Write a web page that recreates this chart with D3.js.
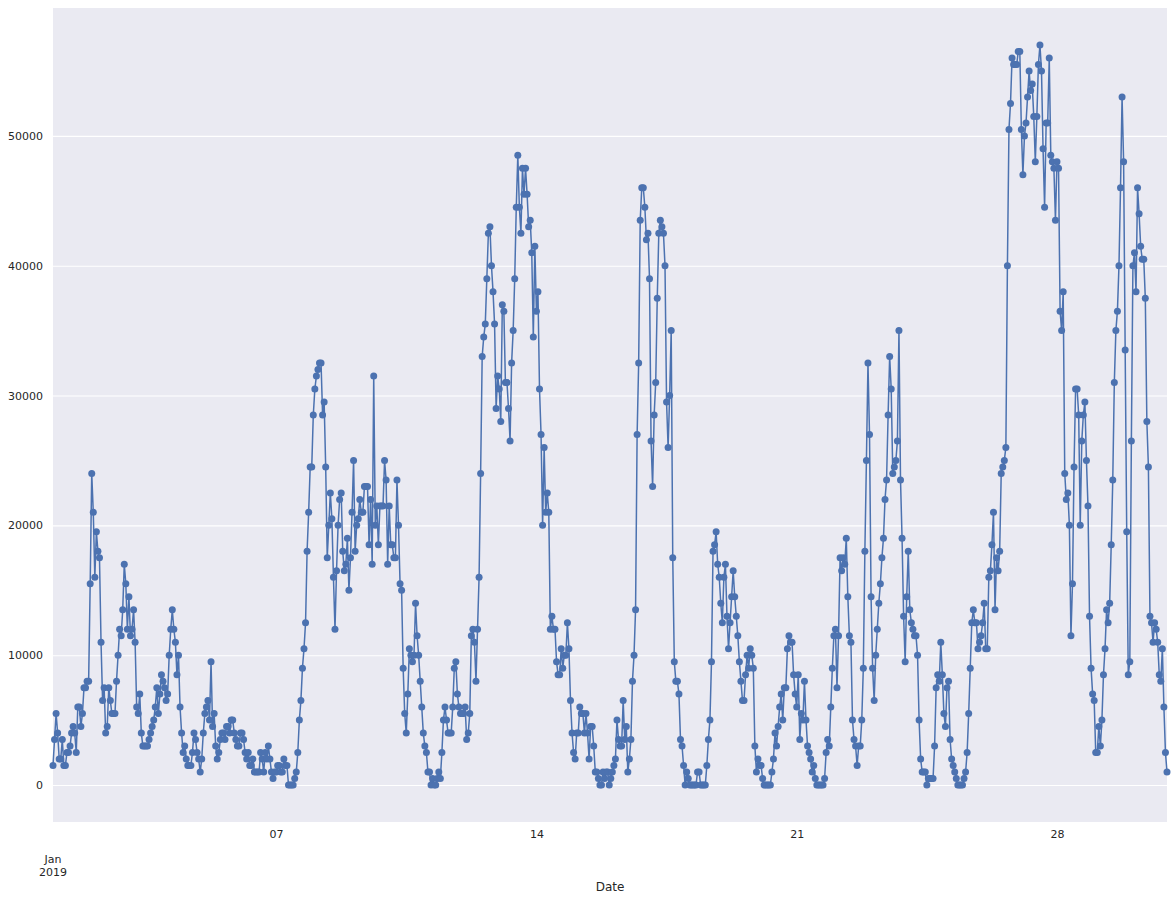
<!DOCTYPE html>
<html>
<head>
<meta charset="utf-8">
<script src="https://cdn.jsdelivr.net/npm/d3@7"></script>
<style>
  body { margin: 0; background: #fff; }
  text { font-family: "DejaVu Sans", sans-serif; fill: #262626; }
</style>
</head>
<body>
<svg id="chart" width="1174" height="901"></svg>
<script>
// hourly values, 2019-01-01 00:00 onwards, one row per day
const week1 = [
  1500, 3500, 5500, 4000, 2000, 2000, 3500, 1500, 1500, 2500, 2500, 3000, 4000, 4500, 4000, 2500, 6000, 6000, 4500, 5500, 7500, 7500, 8000, 8000,
  15500, 24000, 21000, 16000, 19500, 18000, 17500, 11000, 6500, 7500, 4000, 4500, 7500, 6500, 5500, 5500, 5500, 8000, 10000, 12000, 11500, 13500, 17000, 15500,
  12000, 14500, 11500, 12000, 13500, 11000, 6000, 5500, 7000, 4000, 3000, 3000, 3000, 3000, 3500, 4000, 4500, 5000, 6000, 7500, 5500, 7000, 8500, 8000,
  7500, 6500, 7000, 10000, 12000, 13500, 12000, 11000, 8500, 10000, 6000, 4000, 2500, 3000, 2000, 1500, 1500, 1500, 2500, 4000, 3500, 2500, 2000, 1000,
  2000, 4000, 5500, 6000, 6500, 5000, 9500, 4500, 5500, 3000, 2000, 2500, 3500, 4000, 4000, 3500, 4500, 4500, 4000, 5000, 5000, 4000, 3500, 3000,
  3000, 4000, 4000, 3500, 2500, 2000, 2500, 1500, 1500, 2000, 1000, 1000, 1000, 1000, 2500, 2000, 1000, 2500, 2000, 3000, 2000, 1000, 500, 1000,
  1000, 1500, 1500, 1000, 1000, 2000, 1500, 1500, 0, 0, 0, 0, 500, 1000, 2500, 5000, 6500, 9000, 10500, 12500, 18000, 21000, 24500, 24500
];
const week2 = [
  28500, 30500, 31500, 32000, 32500, 32500, 28500, 29500, 24500, 17500, 20000, 22500, 20500, 16000, 12000, 16500, 20000, 22000, 22500, 18000, 16500, 17000, 19000, 15000,
  17500, 21000, 25000, 18000, 20000, 20500, 22000, 21000, 21000, 23000, 23000, 23000, 18500, 22000, 17000, 31500, 20000, 21500, 18500, 21500, 21500, 21500, 25000, 23500,
  17000, 21500, 18500, 18500, 17500, 17500, 23500, 20000, 15500, 15000, 9000, 5500, 4000, 7000, 10500, 10000, 9500, 10000, 14000, 11500, 10000, 8000, 6000, 4000,
  3000, 2500, 1000, 1000, 0, 500, 0, 0, 500, 1000, 500, 2500, 5000, 6000, 5000, 4000, 4000, 4000, 6000, 9000, 9500, 7000, 6000, 5500,
  5500, 5500, 6000, 3500, 4000, 5500, 11500, 12000, 11000, 8000, 12000, 16000, 24000, 33000, 34500, 35500, 39000, 42500, 43000, 40000, 38000, 35500, 29000, 31500,
  30500, 28000, 37000, 36500, 31000, 31000, 29000, 26500, 32500, 35000, 39000, 44500, 48500, 44500, 42500, 47500, 45500, 47500, 45500, 43000, 43500, 41000, 34500, 41500,
  36500, 38000, 30500, 27000, 20000, 26000, 21000, 22500, 21000, 12000, 13000, 12000, 12000, 9500, 8500, 8500, 10500, 9000, 10000, 10000, 12500, 10500, 6500, 4000
];
const week3 = [
  2500, 2000, 4000, 4000, 6000, 5500, 5500, 4000, 5500, 4000, 2000, 4500, 4500, 3000, 1000, 1000, 500, 0, 0, 1000, 500, 1000, 1000, 0,
  500, 1000, 1500, 2000, 5000, 3500, 3000, 3000, 6500, 3500, 4500, 1000, 2000, 3500, 8000, 10000, 13500, 27000, 32500, 43500, 46000, 46000, 44500, 42000,
  42500, 39000, 26500, 23000, 28500, 31000, 37500, 42500, 43500, 43000, 42500, 40000, 29500, 26000, 30000, 35000, 17500, 9500, 8000, 8000, 7000, 3500, 3000, 1500,
  0, 1000, 500, 0, 0, 0, 0, 0, 1000, 1000, 0, 0, 0, 0, 1500, 3500, 5000, 9500, 18000, 18500, 19500, 17000, 16000, 14000,
  12500, 16000, 17000, 13000, 10500, 12500, 14500, 16500, 14500, 13000, 11500, 9500, 8000, 6500, 6500, 8500, 10000, 9000, 10500, 10000, 9000, 3000, 1000, 2000,
  1500, 1500, 500, 0, 0, 0, 0, 0, 1000, 2000, 4000, 3000, 4500, 6000, 7000, 5000, 7500, 7500, 10500, 11500, 11000, 11000, 8500, 7000,
  6000, 8500, 3500, 5500, 5000, 8000, 5000, 3000, 2500, 2000, 1000, 1500, 500, 0, 0, 0, 0, 0, 500, 2500, 3500, 3000, 6000, 9000
];
const week4 = [
  11500, 12000, 7500, 11500, 17500, 16500, 17500, 17000, 19000, 14500, 11500, 11000, 5000, 3500, 3000, 1500, 3000, 3000, 5000, 9000, 18000, 25000, 32500, 27000,
  14500, 9000, 6500, 10000, 12000, 14000, 15500, 17500, 19000, 22000, 23500, 28500, 33000, 30500, 24000, 24500, 25000, 26500, 35000, 23500, 19000, 13000, 9500, 14500,
  18000, 13500, 12500, 12000, 11500, 11500, 10000, 5000, 2000, 1000, 1000, 1000, 0, 500, 500, 500, 500, 3000, 7500, 8500, 8000, 11000, 8500, 5500,
  4500, 7500, 8000, 3500, 2000, 1500, 1000, 500, 0, 0, 0, 0, 500, 1000, 2500, 5500, 9000, 12500, 13500, 12500, 12500, 10500, 11000, 11500,
  12500, 14000, 10500, 10500, 16000, 16500, 18500, 21000, 13500, 17500, 16500, 18000, 24000, 24500, 25000, 26000, 40000, 50500, 52500, 56000, 55500, 55500, 55500, 56500,
  56500, 50500, 47000, 50000, 51000, 53000, 55000, 53500, 54000, 51500, 48000, 51500, 55500, 57000, 55000, 49000, 44500, 51000, 51000, 56000, 48500, 48000, 47500, 43500,
  48000, 47500, 36500, 35000, 38000, 24000, 22000, 22500, 20000, 11500, 15500, 24500, 30500, 30500, 28500, 20000, 26500, 28500, 29500, 25000, 21500, 13000, 9000, 7000
];
const week5 = [
  6500, 2500, 2500, 4500, 3000, 5000, 8500, 10500, 13500, 12500, 14000, 18500, 23500, 31000, 35000, 36500, 40000, 46000, 53000, 48000, 33500, 19500, 8500, 9500,
  26500, 40000, 41000, 38000, 46000, 44000, 41500, 40500, 40500, 37500, 28000, 24500, 13000, 12500, 11000, 12500, 12000, 11000, 8500, 8000, 10500, 6000, 2500, 1000
];

const startDate = new Date(2019, 0, 1, 0);
const yTicks = [0, 10000, 20000, 30000, 40000, 50000];
const minorTickDays = [7, 14, 21, 28];
const minorTickLabels = ["07", "14", "21", "28"];
const majorTickLabel = ["Jan", "2019"];
const xLabel = "Date";

const values = week1.concat(week2, week3, week4, week5);
const series = values.map((v, i) => ({ date: d3.timeHour.offset(startDate, i), value: v }));

const W = 1174, H = 901;
const margin = { left: 53, right: 7, top: 8, bottom: 79 };
const svg = d3.select("#chart");

const x = d3.scaleTime()
  .domain(d3.extent(series, d => d.date))
  .range([margin.left, W - margin.right]);

const yMax = d3.max(values), yPad = yMax * 0.05;
const y = d3.scaleLinear()
  .domain([0 - yPad, yMax + yPad])
  .range([H - margin.bottom, margin.top]);

// background
svg.append("rect")
  .attr("x", margin.left).attr("y", margin.top)
  .attr("width", W - margin.left - margin.right)
  .attr("height", H - margin.top - margin.bottom)
  .attr("fill", "#EAEAF2");

// horizontal grid
svg.append("g")
  .attr("transform", `translate(${margin.left},0)`)
  .call(d3.axisLeft(y).tickValues(yTicks).tickSize(-(W - margin.left - margin.right)).tickFormat(""))
  .call(g => g.select(".domain").remove())
  .call(g => g.selectAll("line").attr("stroke", "#fff").attr("stroke-width", 1.1));

// y tick labels
svg.append("g")
  .attr("transform", `translate(${margin.left},0)`)
  .call(d3.axisLeft(y).tickValues(yTicks).tickSize(0).tickPadding(10).tickFormat(d3.format("d")))
  .call(g => g.select(".domain").remove())
  .call(g => g.selectAll("text").attr("font-size", 11).attr("fill", "#262626").attr("font-family", "DejaVu Sans"));

// x minor ticks (day numbers)
const minorDates = minorTickDays.map(d => new Date(2019, 0, d));
svg.append("g")
  .attr("transform", `translate(0,${H - margin.bottom})`)
  .call(d3.axisBottom(x).tickValues(minorDates).tickSize(0).tickPadding(8)
    .tickFormat((d, i) => minorTickLabels[i]))
  .call(g => g.select(".domain").remove())
  .call(g => g.selectAll("text").attr("font-size", 11).attr("fill", "#262626").attr("font-family", "DejaVu Sans"));

// major tick label (month / year)
const major = svg.append("text")
  .attr("x", x(startDate))
  .attr("y", H - margin.bottom + 41)
  .attr("text-anchor", "middle")
  .attr("font-size", 11);
majorTickLabel.forEach((t, i) => {
  major.append("tspan").attr("x", x(startDate)).attr("dy", i === 0 ? 0 : 13).text(t);
});

// x axis label
svg.append("text")
  .attr("x", (margin.left + W - margin.right) / 2)
  .attr("y", H - 10)
  .attr("text-anchor", "middle")
  .attr("font-size", 12)
  .text(xLabel);

// line + markers
const line = d3.line().x(d => x(d.date)).y(d => y(d.value));
svg.append("path")
  .datum(series)
  .attr("d", line)
  .attr("fill", "none")
  .attr("stroke", "#4C72B0")
  .attr("stroke-width", 1.5);

svg.append("g")
  .selectAll("circle")
  .data(series)
  .join("circle")
  .attr("cx", d => x(d.date))
  .attr("cy", d => y(d.value))
  .attr("r", 3.5)
  .attr("fill", "#4C72B0");
</script>
</body>
</html>
